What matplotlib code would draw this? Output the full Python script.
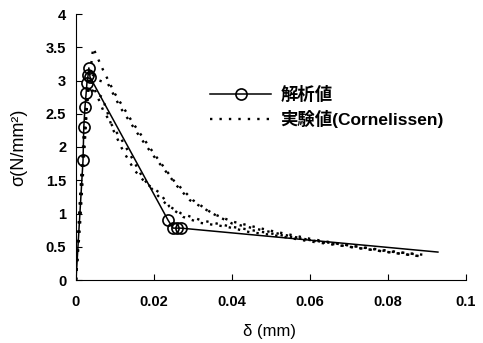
import matplotlib.pyplot as plt
import numpy as np

plt.rcParams['font.family'] = ['Liberation Sans', 'Noto Sans CJK JP', 'DejaVu Sans']
plt.rcParams['font.weight'] = 'bold'

# analysis (solid with circles)
ana_x = [0, 0.0018, 0.0020, 0.0023, 0.0026, 0.0028, 0.0031, 0.0033, 0.0036,
         0.0236, 0.0249, 0.0259, 0.0269, 0.0928]
ana_y = [0, 1.80, 2.30, 2.60, 2.81, 2.96, 3.08, 3.19, 3.05,
         0.90, 0.78, 0.78, 0.78, 0.42]

# experiments (Cornelissen)
e1_x = [0, 0.001, 0.002, 0.003, 0.0044, 0.007, 0.010, 0.0146, 0.020, 0.025, 0.030,
        0.035, 0.040, 0.050, 0.060, 0.070, 0.080, 0.089]
e1_y = [0, 0.8, 1.8, 2.8, 3.49, 3.15, 2.80, 2.36, 1.90, 1.50, 1.20,
        1.00, 0.88, 0.74, 0.62, 0.52, 0.43, 0.38]
e2_x = [0, 0.001, 0.002, 0.003, 0.004, 0.006, 0.0082, 0.0113, 0.0164, 0.0197, 0.0228,
        0.0261, 0.0292, 0.035, 0.040, 0.050, 0.060, 0.070, 0.080, 0.088]
e2_y = [0, 1.0, 2.0, 2.8, 3.10, 3.00, 2.95, 2.60, 2.15, 1.88, 1.65,
        1.40, 1.20, 1.00, 0.85, 0.72, 0.60, 0.50, 0.42, 0.36]
e3_x = [0, 0.001, 0.002, 0.0035, 0.0069, 0.0095, 0.012, 0.0144, 0.0172, 0.0203, 0.0233,
        0.027, 0.032, 0.040, 0.050, 0.060, 0.070, 0.080, 0.088]
e3_y = [0, 1.2, 2.2, 3.05, 2.56, 2.30, 2.08, 1.83, 1.53, 1.31, 1.13,
        1.00, 0.90, 0.80, 0.70, 0.60, 0.52, 0.44, 0.38]
e4_x = [0, 0.001, 0.002, 0.003, 0.0067, 0.008, 0.0092, 0.012, 0.015, 0.018, 0.0215,
        0.024, 0.0274, 0.0318, 0.0387, 0.0445, 0.050, 0.060, 0.070, 0.080, 0.089]
e4_y = [0, 1.1, 2.1, 2.9, 2.75, 2.53, 2.30, 1.95, 1.65, 1.45, 1.31,
        1.10, 0.95, 0.86, 0.80, 0.72, 0.68, 0.58, 0.50, 0.42, 0.35]

xticks = [0, 0.02, 0.04, 0.06, 0.08, 0.1]
xtick_labels = ['0', '0.02', '0.04', '0.06', '0.08', '0.1']
yticks = [0, 0.5, 1, 1.5, 2, 2.5, 3, 3.5, 4]
ytick_labels = ['0', '0.5', '1', '1.5', '2', '2.5', '3', '3.5', '4']

fig = plt.figure(figsize=(4.83, 3.43), dpi=100)
ax = fig.add_axes([76 / 483, 1 - 280 / 343, 390 / 483, 266 / 343])

dot = (0, (1.0, 3.0))
ax.plot(e1_x, e1_y, color='black', lw=1.7, ls=dot, label='実験値(Cornelissen)')
ax.plot(e2_x, e2_y, color='black', lw=1.7, ls=dot)
ax.plot(e3_x, e3_y, color='black', lw=1.7, ls=dot)
ax.plot(e4_x, e4_y, color='black', lw=1.7, ls=dot)
ax.plot(ana_x, ana_y, color='black', lw=1.1, marker='o', markersize=8,
        markerfacecolor='none', markeredgewidth=1.2,
        markevery=list(range(1, len(ana_x) - 1)), label='解析値')

ax.set_xlim(0, 0.1)
ax.set_ylim(0, 4)
ax.set_xticks(xticks)
ax.set_xticklabels(xtick_labels)
ax.set_yticks(yticks)
ax.set_yticklabels(ytick_labels)
ax.tick_params(axis='both', labelsize=10.5)
ax.tick_params(axis='x', direction='in', length=4, pad=11)
ax.tick_params(axis='y', direction='in', length=4, pad=7)
ax.spines['top'].set_visible(False)
ax.spines['right'].set_visible(False)

ax.set_xlabel('δ (mm)', fontsize=12, fontweight='normal')
ax.xaxis.set_label_coords(0.497, -0.165)
ax.set_ylabel('σ(N/mm²)', fontsize=13, fontweight='normal')
ax.yaxis.set_label_coords(-0.125, 0.5)

h, l = ax.get_legend_handles_labels()
ax.legend(h[::-1], l[::-1], loc='upper left', bbox_to_anchor=(0.344, 0.73),
          frameon=False, numpoints=1, handlelength=3.5, handletextpad=0.55,
          labelspacing=0.4, borderpad=0, borderaxespad=0,
          prop={'family': ['Liberation Sans', 'Noto Sans CJK JP'], 'weight': 'bold', 'size': 12.5})

fig.savefig('out.png', dpi=100)
